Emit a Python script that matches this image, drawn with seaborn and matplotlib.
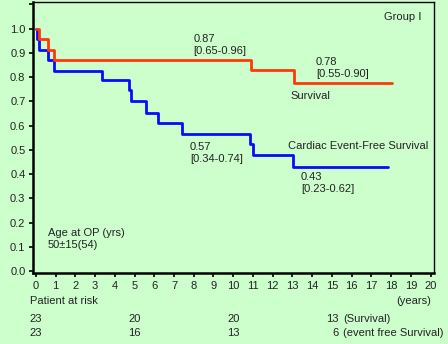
import matplotlib
matplotlib.use("Agg")
import matplotlib.pyplot as plt
import matplotlib.transforms as mtransforms
import numpy as np
import pandas as pd
import seaborn as sns

# Kaplan-Meier step curves (time in years, estimate)
surv_t = [0.0, 0.17, 0.62, 0.93, 10.89, 13.08, 18.03]
surv_y = [1.0, 0.957, 0.913, 0.870, 0.828, 0.778, 0.778]

efs_t = [0.0, 0.05, 0.18, 0.62, 0.93, 3.34, 4.74, 4.81, 5.57, 6.21, 7.39,
         10.85, 11.0, 13.04, 17.84]
efs_y = [1.0, 0.957, 0.913, 0.870, 0.826, 0.788, 0.747, 0.702, 0.653, 0.610,
         0.565, 0.523, 0.480, 0.431, 0.431]

# annotations: (x, y, text)
notes = [(8.0, 0.932, "0.87\n[0.65-0.96]"),
         (14.19, 0.839, "0.78\n[0.55-0.90]"),
         (7.81, 0.486, "0.57\n[0.34-0.74]"),
         (13.43, 0.362, "0.43\n[0.23-0.62]")]

risk_times = [0, 5, 10, 15]
risk_surv = [23, 20, 20, 13]
risk_efs = [23, 16, 13, 6]

bg = "#ccffcc"
red = "#ff3a0a"
blue = "#0a0aff"
txt = "#222222"
fs = 8.0

sns.set_theme(style="ticks")
plt.rcParams["font.family"] = ["Liberation Sans", "DejaVu Sans"]
plt.rcParams["axes.linewidth"] = 1.0

fig = plt.figure(figsize=(4.48, 3.44), dpi=100, facecolor=bg)
ax = fig.add_axes([0.0737, 0.2064, 0.8951, 0.7876])
ax.set_facecolor(bg)

df_s = pd.DataFrame({"t": surv_t, "y": surv_y})
df_e = pd.DataFrame({"t": efs_t, "y": efs_y})
sns.lineplot(data=df_e, x="t", y="y", ax=ax, color=blue, lw=2.0,
             drawstyle="steps-post", estimator=None, sort=False)
sns.lineplot(data=df_s, x="t", y="y", ax=ax, color=red, lw=2.0,
             drawstyle="steps-post", estimator=None, sort=False)

ax.set_xlim(-0.14, 20.17)
ax.set_ylim(-0.008, 1.11)
ax.set_xticks(range(0, 21))
ax.set_xticklabels([str(i) for i in range(0, 21)], fontsize=fs, color=txt)
yt = np.round(np.arange(0, 1.11, 0.1), 1)
ax.set_yticks(yt)
ax.set_yticklabels([f"{v:.1f}" if v <= 1.0 else "" for v in yt], fontsize=fs, color=txt)
ax.tick_params(axis="both", length=3, width=1.2, color="black", pad=2.5)
ax.set_xlabel("")
ax.set_ylabel("")
for side in ["left", "bottom"]:
    ax.spines[side].set_linewidth(1.8)
for s in ax.spines.values():
    s.set_color("black")

for x, y, s in notes:
    ax.text(x, y, s, fontsize=fs, color=txt, va="center", ha="left", linespacing=1.25)

ax.text(12.88, 0.723, "Survival", fontsize=fs, color=txt, va="center")
ax.text(12.78, 0.517, "Cardiac Event-Free Survival", fontsize=fs, color=txt, va="center")
ax.text(0.97, 0.945, "Group Ⅰ", transform=ax.transAxes, fontsize=fs, color=txt,
        ha="right", va="center")
ax.text(0.62, 0.134, "Age at OP (yrs)\n50±15(54)", fontsize=fs, color=txt,
        va="center", ha="left", linespacing=1.25)

# patients at risk below the axis
tr = mtransforms.blended_transform_factory(ax.transData, ax.transAxes)
ax.text(-0.3, -0.103, "Patient at risk", transform=tr, fontsize=fs, color=txt, va="center")
ax.text(20.0, -0.103, "(years)", transform=tr, fontsize=fs, color=txt, va="center", ha="right")
for row, vals, suffix in [(-0.170, risk_surv, "(Survival)"),
                          (-0.221, risk_efs, "(event free Survival)")]:
    for t, n in zip(risk_times, vals):
        ax.text(t + 0.33, row, str(n), transform=tr, fontsize=fs, color=txt,
                va="center", ha="right")
    ax.text(risk_times[-1] + 0.58, row, suffix, transform=tr, fontsize=fs,
            color=txt, va="center", ha="left")

fig.savefig("out.png", dpi=100, facecolor=bg)
